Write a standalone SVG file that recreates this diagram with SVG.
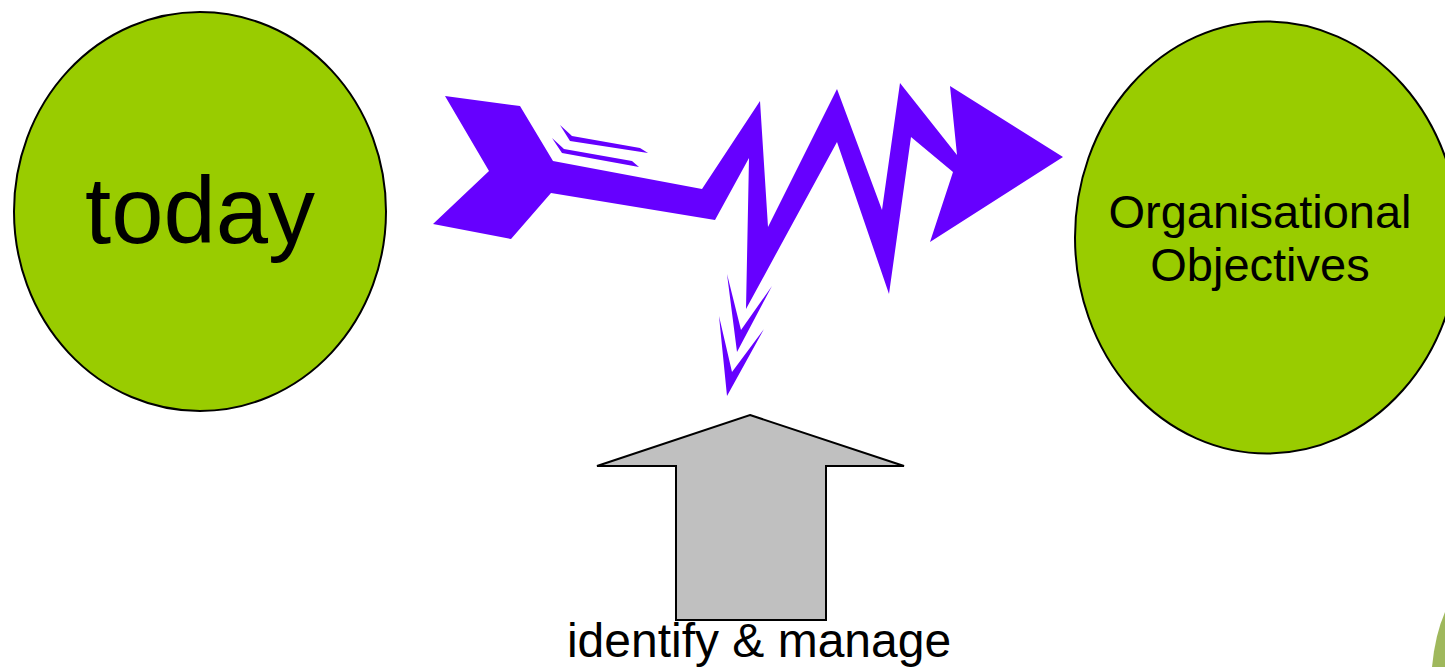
<svg xmlns="http://www.w3.org/2000/svg" width="1445" height="667" viewBox="0 0 1445 667">
<style>
.node{fill:#99cc00;stroke:#000;stroke-width:2}
.lbl{font-family:"Liberation Sans",Arial,sans-serif;fill:#000;text-anchor:middle}
.zig{fill:#6600ff;stroke:none}
.gray{fill:#c0c0c0;stroke:#000;stroke-width:2;stroke-linejoin:miter}
</style>
<rect width="1445" height="667" fill="#fff"/>
<g id="today">
<ellipse class="node" cx="200" cy="211.5" rx="186" ry="199.5"/>
<text class="lbl" x="200" y="243" font-size="94">today</text>
</g>
<g id="objectives">
<ellipse class="node" cx="1267" cy="237.5" rx="192" ry="216"/>
<text class="lbl" x="1260" y="228" font-size="47">Organisational</text>
<text class="lbl" x="1260" y="281" font-size="47">Objectives</text>
</g>
<g id="connectors">
<polygon class="zig" points="445,96 520,106 553,161 702,189 760,101 768,227 837,89 882,210 900,83 957,155 950,86 1063,157 930,242 953,172 911,137 889,294 837,142 746,309 749,158 715,220 551,193 511,239 433,224 489,171"/>
<polygon class="zig" points="560,125 572,136 640,148 648,153 570,141"/>
<polygon class="zig" points="552,138 564,149 632,161 639,167 562,153"/>
<polygon class="zig" points="727,274 741,330 772,286 737,352"/>
<polygon class="zig" points="719,316 732,372 764,329 727,396"/>
</g>
<g id="manage">
<polygon class="gray" points="750,415 904,466 826,466 826,620 676,620 676,466 597,466"/>
<text class="lbl" x="759" y="657" font-size="48">identify &amp; manage</text>
</g>
<path d="M1445,612 Q1435,635 1432,667 L1445,667 Z" fill="#9fb85c"/>
</svg>
